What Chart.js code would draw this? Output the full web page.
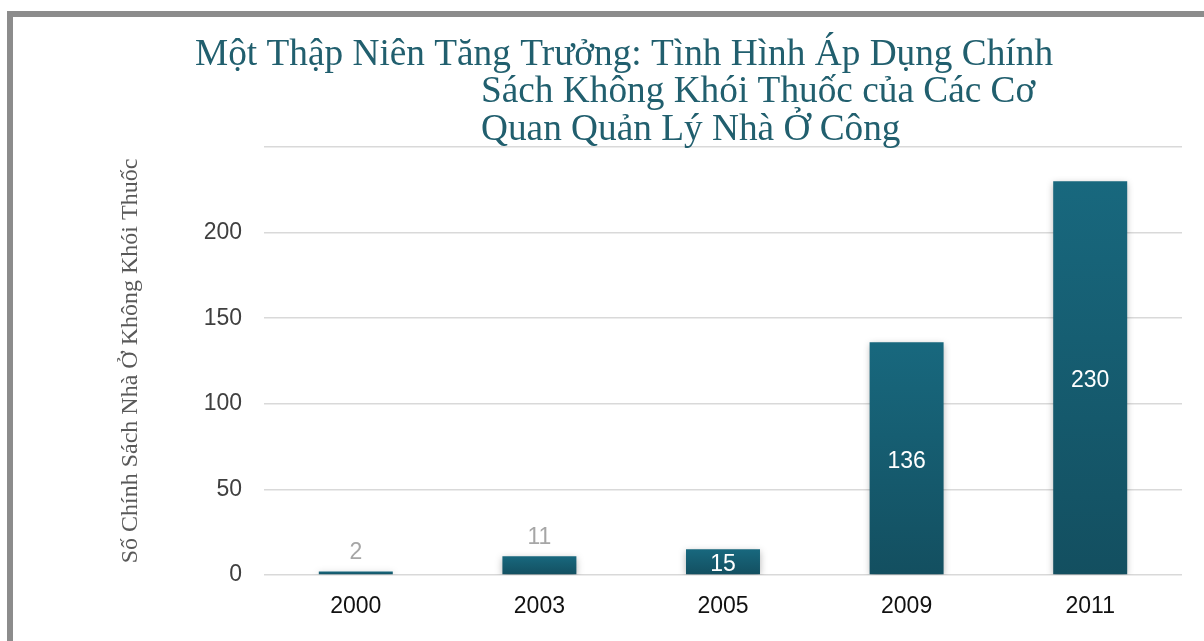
<!DOCTYPE html>
<html>
<head>
<meta charset="utf-8">
<script src="https://cdn.jsdelivr.net/npm/chart.js@4/dist/chart.umd.min.js"></script>
<style>
  html, body { margin: 0; padding: 0; background: #fff; }
  #frame { position: absolute; left: 7px; top: 11px; width: 1300px; height: 700px;
           border-top: 6px solid #8c8c8c; border-left: 6px solid #8c8c8c; }
  #wrap { position: absolute; left: 0; top: 0; width: 1204px; height: 641px; }
</style>
</head>
<body>
<div id="frame"></div>
<div id="wrap"><canvas id="chart" width="1204" height="641"></canvas></div>
<script>
var years = ['2000', '2003', '2005', '2009', '2011'];
var policies = [2, 11, 15, 136, 230];
var yTicks = [0, 50, 100, 150, 200, 250];

var titleLines = [
  'Một Thập Niên Tăng Trưởng: Tình Hình Áp Dụng Chính',
  'Sách Không Khói Thuốc của Các Cơ',
  'Quan Quản Lý Nhà Ở Công'
];
var yTitle = 'Số Chính Sách Nhà Ở Không Khói Thuốc';

// title is drawn by hand: the original has odd line alignment
var titlePlugin = {
  id: 'oddTitle',
  afterDraw: function (chart) {
    var c = chart.ctx;
    c.save();
    c.font = '37.3px "Liberation Serif", "Times New Roman", serif';
    c.fillStyle = '#215f6e';
    c.textBaseline = 'alphabetic';
    c.fillText(titleLines[0], 195, 65);
    c.fillText(titleLines[1], 481, 102);
    c.fillText(titleLines[2], 481, 140);
    c.restore();
  }
};

var shadowPlugin = {
  id: 'barShadow',
  beforeDatasetsDraw: function (chart) {
    var c = chart.ctx;
    c.save();
    c.shadowColor = 'rgba(0,0,0,0.3)';
    c.shadowBlur = 7;
    c.shadowOffsetY = 2;
  },
  afterDatasetsDraw: function (chart) {
    chart.ctx.restore();
  }
};

var labelPlugin = {
  id: 'barLabels',
  afterDatasetsDraw: function (chart) {
    var c = chart.ctx;
    var meta = chart.getDatasetMeta(0);
    c.save();
    c.font = '23px "Liberation Sans", Arial, sans-serif';
    c.textAlign = 'center';
    c.textBaseline = 'middle';
    meta.data.forEach(function (bar, i) {
      var h = bar.base - bar.y;
      if (h < 22) {
        c.fillStyle = '#a6a6a6';
        c.fillText(String(policies[i]), bar.x, bar.y - 19);
      } else {
        c.fillStyle = '#ffffff';
        c.fillText(String(policies[i]), bar.x, (bar.y + bar.base) / 2 + 3);
      }
    });
    c.restore();
  }
};

var ctx = document.getElementById('chart').getContext('2d');
var myChart = new Chart(ctx, {
  type: 'bar',
  data: {
    labels: years,
    datasets: [{
      data: policies,
      backgroundColor: function (context) {
        var chart = context.chart;
        if (!chart.chartArea) return '#17607a';
        var y = chart.scales.y;
        var top = y.getPixelForValue(context.raw);
        var bottom = y.getPixelForValue(0);
        var g = chart.ctx.createLinearGradient(0, top, 0, bottom);
        g.addColorStop(0, '#18687e');
        g.addColorStop(1, '#134f60');
        return g;
      },
      borderWidth: 0,
      categoryPercentage: 1,
      barPercentage: 0.403,
    }],
  },
  options: {
    responsive: false,
    animation: false,
    layout: { padding: { left: 112, right: 22, top: 147, bottom: 0 } },
    plugins: {
      legend: { display: false },
      tooltip: { enabled: false },
    },
    scales: {
      x: {
        grid: { display: false, drawTicks: false },
        border: { display: false },
        ticks: {
          color: '#111',
          padding: 18,
          font: { family: '"Liberation Sans", Arial, sans-serif', size: 23 },
        },
        afterFit: function (s) { s.height = 66; },
      },
      y: {
        min: 0,
        max: 250,
        afterBuildTicks: function (s) {
          s.ticks = yTicks.map(function (v) { return { value: v }; });
        },
        grid: { color: '#d9d9d9', lineWidth: 1.5, drawTicks: false },
        border: { display: false },
        ticks: {
          color: '#404040',
          padding: 22,
          font: { family: '"Liberation Sans", Arial, sans-serif', size: 23 },
          callback: function (v) { return v === 250 ? '' : v; },
        },
        title: {
          display: true,
          text: yTitle,
          color: '#595959',
          padding: { top: 4, bottom: 4 },
          font: { family: '"Liberation Serif", "Times New Roman", serif', size: 24 },
        },
        afterFit: function (s) { s.width = 152; },
      },
    },
  },
  plugins: [shadowPlugin, labelPlugin, titlePlugin],
});
</script>
</body>
</html>
